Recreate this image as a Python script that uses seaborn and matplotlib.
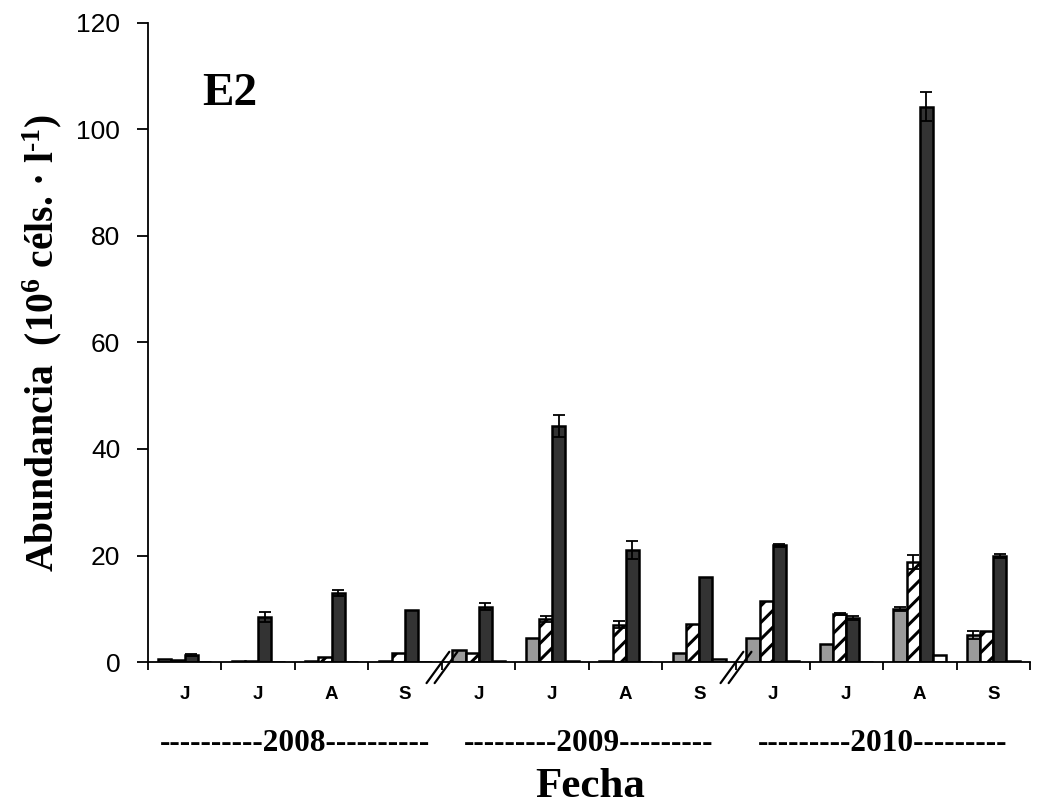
import numpy as np
import pandas as pd
import seaborn as sns
import matplotlib
matplotlib.use("Agg")
import matplotlib.pyplot as plt
from matplotlib import transforms

# ---- data -------------------------------------------------------------
years = ["2008", "2009", "2010"]
months = ["J", "J", "A", "S"]
series = ["Serie 1", "Serie 2", "Serie 3", "Serie 4"]

# abundance (10^6 cells per litre), one value per sampling month
serie1 = [0.6, 0.1, 0.2, 0.2, 2.3, 4.6, 0.2, 1.6, 4.6, 3.3, 10.0, 5.1]
serie2 = [0.3, 0.2, 1.0, 1.7, 1.6, 8.1, 7.0, 7.2, 11.4, 9.0, 18.8, 5.9]
serie3 = [1.3, 8.4, 13.0, 9.8, 10.4, 44.3, 21.0, 16.0, 21.9, 8.3, 104.3, 19.9]
serie4 = [0.0, 0.0, 0.0, 0.0, 0.2, 0.2, 0.0, 0.6, 0.2, 0.0, 1.3, 0.2]

# standard errors
err1 = [0, 0, 0, 0, 0, 0, 0, 0, 0, 0, 0.4, 0.7]
err2 = [0, 0, 0, 0, 0, 0.6, 0.7, 0, 0, 0.2, 1.3, 0]
err3 = [0.2, 0.9, 0.6, 0, 0.6, 2.0, 1.7, 0, 0.3, 0.4, 2.7, 0.4]
err4 = [0] * 12

year_labels = ["----------2008----------", "---------2009---------", "---------2010---------"]

# ---- long table -------------------------------------------------------
groups = [f"{y}-{m}{i}" for y in years for i, m in enumerate(months)]
values = [serie1, serie2, serie3, serie4]
errors = [err1, err2, err3, err4]
rows = []
for s, vals, errs in zip(series, values, errors):
    for g, v, e in zip(groups, vals, errs):
        rows.append({"grupo": g, "serie": s, "valor": v, "error": e})
df = pd.DataFrame(rows)

# ---- style ------------------------------------------------------------
sns.set_style("ticks")
plt.rcParams["font.family"] = ["Liberation Sans", "DejaVu Sans"]
plt.rcParams["hatch.linewidth"] = 2.2
for key in ["text.color", "axes.labelcolor", "xtick.color", "ytick.color", "axes.edgecolor"]:
    plt.rcParams[key] = "black"
plt.rcParams["mathtext.fontset"] = "custom"
plt.rcParams["mathtext.rm"] = "Liberation Serif:bold"
plt.rcParams["mathtext.it"] = "Liberation Serif:bold"
plt.rcParams["mathtext.bf"] = "Liberation Serif:bold"

fig = plt.figure(figsize=(10.42, 8.11), dpi=100)
ax = fig.add_axes([0.142, 0.1837, 0.8465, 0.788])

palette = {"Serie 1": "#9a9a9a", "Serie 2": "white", "Serie 3": "#333333", "Serie 4": "white"}
sns.barplot(data=df, x="grupo", y="valor", hue="serie", order=groups,
            hue_order=series, palette=palette, width=0.72, dodge=True,
            edgecolor="black", linewidth=1.8, errorbar=None, legend=False,
            saturation=1, ax=ax)

# hatching and error bars on the drawn bars
bar_containers = list(ax.containers)
for k, cont in enumerate(bar_containers):
    errs = errors[k]
    for bar in cont:
        xc = bar.get_x() + bar.get_width() / 2
        j = int(round(xc))
        if series[k] == "Serie 2":
            bar.set_hatch("//")
            bar.set_facecolor("white")
        e = errs[j]
        if e > 0:
            ax.errorbar(xc, bar.get_height(), yerr=e, fmt="none", ecolor="black",
                        elinewidth=1.3, capsize=4.5, capthick=1.3, zorder=5)

# ---- axes -------------------------------------------------------------
ax.set_xlim(-0.5, len(groups) - 0.5)
ax.set_ylim(0, 120)
ax.set_yticks(np.arange(0, 121, 20))
ax.tick_params(axis="y", labelsize=19, length=8, width=1.3, pad=12)
ax.set_xticks(np.arange(len(groups)))
ax.set_xticklabels(months * len(years), fontsize=13.5, fontweight="bold")
ax.tick_params(axis="x", which="major", length=0, pad=17)
ax.set_xticks(np.arange(-0.5, len(groups) + 0.5, 1), minor=True)
ax.tick_params(axis="x", which="minor", length=6, width=1.3)
ax.set_xlabel("")
ax.set_ylabel("")
for sp in ["top", "right"]:
    ax.spines[sp].set_visible(False)
for sp in ["left", "bottom"]:
    ax.spines[sp].set_linewidth(1.3)

# axis break marks between years
trans = transforms.blended_transform_factory(ax.transData, ax.transAxes)
for b in [3.5, 7.5]:
    for off in (-0.055, 0.055):
        ax.plot([b + off - 0.155, b + off + 0.155], [-0.033, 0.016], color="black",
                lw=1.6, transform=trans, clip_on=False, zorder=6)

# year labels under each block of months
for i, lab in enumerate(year_labels):
    xc = i * len(months) + (len(months) - 1) / 2
    ax.text(xc, -0.14, lab, transform=trans, ha="center", va="baseline",
            fontsize=22.5, fontweight="bold", family="Liberation Serif")

fig.text(0.566, 0.017, "Fecha", ha="center", va="baseline",
         fontsize=31, fontweight="bold", family="Liberation Serif")
fig.text(0.040, 0.577, "Abundancia  (10$^{6}$ céls. · l$^{\u20101}$)", rotation=90,
         ha="center", va="center", fontsize=28.5, fontweight="bold", family="Liberation Serif")
fig.text(0.194, 1 - 105 / 811, "E2", ha="left", va="baseline",
         fontsize=34, fontweight="bold", family="Liberation Serif")

fig.savefig("out.png", dpi=100)
